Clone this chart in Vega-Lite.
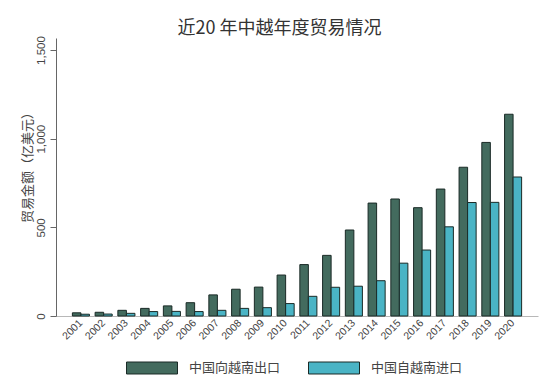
{
  "$schema": "https://vega.github.io/schema/vega-lite/v6.json",
  "autosize": {"type": "none"},
  "padding": {"left": 56, "top": 38, "right": 16, "bottom": 67},
  "width": 482,
  "height": 278,
  "background": "white",
  "title": {
    "text": "近20 年中越年度贸易情况",
    "font": "Noto Sans CJK SC",
    "fontSize": 18,
    "fontWeight": "normal",
    "color": "#333333",
    "anchor": "middle",
    "frame": "bounds",
    "offset": -2
  },
  "data": {
    "values": [
      {"year": "2001", "type": "中国向越南出口", "value": 18},
      {"year": "2002", "type": "中国向越南出口", "value": 21},
      {"year": "2003", "type": "中国向越南出口", "value": 32},
      {"year": "2004", "type": "中国向越南出口", "value": 43},
      {"year": "2005", "type": "中国向越南出口", "value": 57},
      {"year": "2006", "type": "中国向越南出口", "value": 75},
      {"year": "2007", "type": "中国向越南出口", "value": 119},
      {"year": "2008", "type": "中国向越南出口", "value": 151},
      {"year": "2009", "type": "中国向越南出口", "value": 163},
      {"year": "2010", "type": "中国向越南出口", "value": 231},
      {"year": "2011", "type": "中国向越南出口", "value": 290},
      {"year": "2012", "type": "中国向越南出口", "value": 342},
      {"year": "2013", "type": "中国向越南出口", "value": 485},
      {"year": "2014", "type": "中国向越南出口", "value": 637},
      {"year": "2015", "type": "中国向越南出口", "value": 660},
      {"year": "2016", "type": "中国向越南出口", "value": 611},
      {"year": "2017", "type": "中国向越南出口", "value": 716},
      {"year": "2018", "type": "中国向越南出口", "value": 839},
      {"year": "2019", "type": "中国向越南出口", "value": 979},
      {"year": "2020", "type": "中国向越南出口", "value": 1138},
      {"year": "2001", "type": "中国自越南进口", "value": 10},
      {"year": "2002", "type": "中国自越南进口", "value": 11},
      {"year": "2003", "type": "中国自越南进口", "value": 15},
      {"year": "2004", "type": "中国自越南进口", "value": 25},
      {"year": "2005", "type": "中国自越南进口", "value": 26},
      {"year": "2006", "type": "中国自越南进口", "value": 25},
      {"year": "2007", "type": "中国自越南进口", "value": 32},
      {"year": "2008", "type": "中国自越南进口", "value": 43},
      {"year": "2009", "type": "中国自越南进口", "value": 47},
      {"year": "2010", "type": "中国自越南进口", "value": 70},
      {"year": "2011", "type": "中国自越南进口", "value": 111},
      {"year": "2012", "type": "中国自越南进口", "value": 162},
      {"year": "2013", "type": "中国自越南进口", "value": 168},
      {"year": "2014", "type": "中国自越南进口", "value": 199},
      {"year": "2015", "type": "中国自越南进口", "value": 298},
      {"year": "2016", "type": "中国自越南进口", "value": 372},
      {"year": "2017", "type": "中国自越南进口", "value": 503},
      {"year": "2018", "type": "中国自越南进口", "value": 640},
      {"year": "2019", "type": "中国自越南进口", "value": 641},
      {"year": "2020", "type": "中国自越南进口", "value": 784}
    ]
  },
  "mark": {"type": "bar", "stroke": "#1a2a26", "strokeWidth": 1, "opacity": 1},
  "encoding": {
    "x": {
      "field": "year",
      "type": "nominal",
      "scale": {"paddingInner": 0.25, "paddingOuter": 0.72},
      "axis": {
        "title": null,
        "labelAngle": -45,
        "labelAlign": "right",
        "labelBaseline": "middle",
        "labelPadding": 5,
        "labelFont": "Liberation Sans",
        "labelFontSize": 10.5,
        "labelColor": "#444444",
        "ticks": false,
        "domainColor": "#b8b8b8",
        "domainWidth": 1
      }
    },
    "xOffset": {"field": "type", "type": "nominal"},
    "y": {
      "field": "value",
      "type": "quantitative",
      "scale": {"domain": [0, 1568], "nice": false},
      "axis": {
        "title": "贸易金额（亿美元）",
        "titleFont": "Noto Sans CJK SC",
        "titleFontSize": 13,
        "titleFontWeight": "normal",
        "titleColor": "#444444",
        "titleX": -29,
        "titleY": 126,
        "titleAlign": "center",
        "titleBaseline": "middle",
        "titleAngle": -90,
        "values": [0, 500, 1000, 1500],
        "format": ",d",
        "labelAngle": -90,
        "labelAlign": "center",
        "labelBaseline": "bottom",
        "labelPadding": 4,
        "labelFont": "Liberation Sans",
        "labelFontSize": 11.5,
        "labelColor": "#444444",
        "tickSize": 6,
        "tickColor": "#666666",
        "domainColor": "#666666",
        "grid": false
      }
    },
    "fill": {
      "field": "type",
      "type": "nominal",
      "scale": {"domain": ["中国向越南出口", "中国自越南进口"], "range": ["#436b5e", "#4ab4c5"]},
      "legend": {
        "title": null,
        "orient": "none",
        "direction": "horizontal",
        "legendX": 70,
        "legendY": 304,
        "symbolType": "M-1,-0.235H1V0.235H-1Z",
        "symbolSize": 2601,
        "symbolStrokeColor": "#1a2a26",
        "symbolStrokeWidth": 1,
        "symbolOpacity": 1,
        "labelFont": "Noto Sans CJK SC",
        "labelFontSize": 13,
        "labelColor": "#444444",
        "labelOffset": 11,
        "columnPadding": 25
      }
    }
  },
  "config": {"view": {"stroke": null}}
}
